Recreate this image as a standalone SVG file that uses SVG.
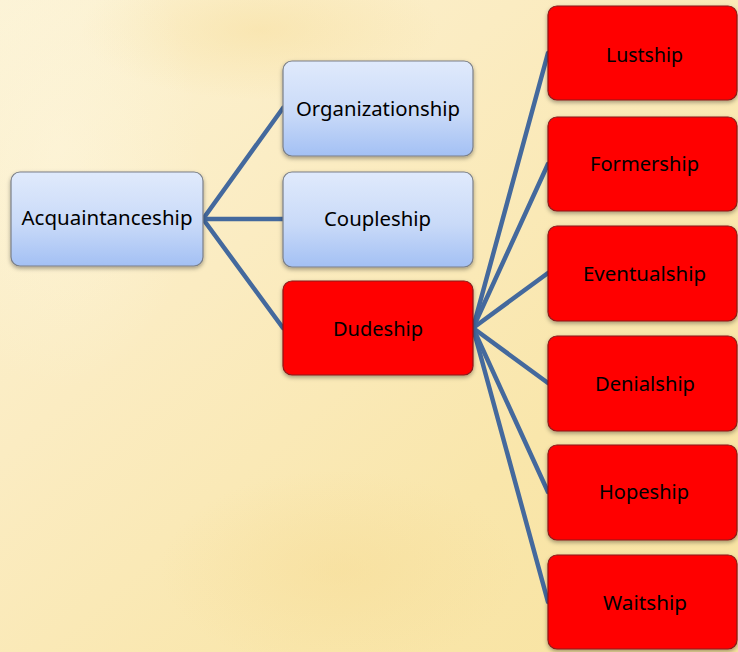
<svg xmlns="http://www.w3.org/2000/svg" width="738" height="652" viewBox="0 0 738 652">
<defs>
<linearGradient id="bg" x1="0" y1="0" x2="1" y2="1">
<stop offset="0" stop-color="#fcf3d6"/>
<stop offset="0.35" stop-color="#fbecc2"/>
<stop offset="0.7" stop-color="#f9e6ab"/>
<stop offset="1" stop-color="#f8e3a0"/>
</linearGradient>
<radialGradient id="spot1" cx="0.5" cy="0.5" r="0.5">
<stop offset="0" stop-color="#f6db94" stop-opacity="0.45"/>
<stop offset="1" stop-color="#f6db94" stop-opacity="0"/>
</radialGradient>
<radialGradient id="spot2" cx="0.5" cy="0.5" r="0.5">
<stop offset="0" stop-color="#fdf6de" stop-opacity="0.5"/>
<stop offset="1" stop-color="#fdf6de" stop-opacity="0"/>
</radialGradient>
<linearGradient id="blue" x1="0" y1="0" x2="0" y2="1">
<stop offset="0" stop-color="#e0eafc"/>
<stop offset="0.55" stop-color="#c9daf8"/>
<stop offset="1" stop-color="#a3c0f4"/>
</linearGradient>
<filter id="sh" x="-10%" y="-10%" width="125%" height="130%">
<feDropShadow dx="0" dy="2" stdDeviation="2" flood-color="#000" flood-opacity="0.35"/>
</filter>
<style>
.bl{fill:url(#blue);stroke:#7a7f88;stroke-width:1.2;filter:url(#sh)}
.rd{fill:#ff0000;stroke:#8a1a1a;stroke-width:1.2;filter:url(#sh)}
.t{font-family:"Noto Sans","Open Sans","Liberation Sans",sans-serif;font-size:19.5px;fill:#000;text-anchor:middle}
.c{stroke:#44699d;stroke-width:4.5;fill:none;stroke-linecap:round}
</style>
</defs>
<rect x="0" y="0" width="738" height="652" fill="url(#bg)"/>
<ellipse cx="260" cy="30" rx="180" ry="70" fill="url(#spot1)"/>
<ellipse cx="340" cy="570" rx="180" ry="100" fill="url(#spot1)"/>
<ellipse cx="60" cy="150" rx="140" ry="240" fill="url(#spot2)"/>

<g id="connectors">
<line class="c" x1="203" y1="219" x2="283" y2="108"/>
<line class="c" x1="203" y1="219" x2="283" y2="219"/>
<line class="c" x1="203" y1="219" x2="283" y2="328"/>
<line class="c" x1="473" y1="328" x2="548" y2="53"/>
<line class="c" x1="473" y1="328" x2="548" y2="164"/>
<line class="c" x1="473" y1="328" x2="548" y2="273"/>
<line class="c" x1="473" y1="328" x2="548" y2="383"/>
<line class="c" x1="473" y1="328" x2="548" y2="492"/>
<line class="c" x1="473" y1="328" x2="548" y2="602"/>
</g>

<g id="acquaintanceship">
<rect class="bl" x="11" y="172" width="192" height="94" rx="9"/>
<text class="t" x="107" y="225" textLength="171" lengthAdjust="spacingAndGlyphs">Acquaintanceship</text>
</g>
<g id="organizationship">
<rect class="bl" x="283" y="61" width="190" height="95" rx="9"/>
<text class="t" x="378" y="116" textLength="164" lengthAdjust="spacingAndGlyphs">Organizationship</text>
</g>
<g id="coupleship">
<rect class="bl" x="283" y="172" width="190" height="95" rx="9"/>
<text class="t" x="377.5" y="226" textLength="107" lengthAdjust="spacingAndGlyphs">Coupleship</text>
</g>
<g id="dudeship">
<rect class="rd" x="283" y="281" width="190" height="94" rx="9"/>
<text class="t" x="378" y="336" textLength="90" lengthAdjust="spacingAndGlyphs">Dudeship</text>
</g>
<g id="lustship">
<rect class="rd" x="548" y="6" width="189" height="94" rx="9"/>
<text class="t" x="644.5" y="62" textLength="77" lengthAdjust="spacingAndGlyphs">Lustship</text>
</g>
<g id="formership">
<rect class="rd" x="548" y="117" width="189" height="94" rx="9"/>
<text class="t" x="644.5" y="171" textLength="109" lengthAdjust="spacingAndGlyphs">Formership</text>
</g>
<g id="eventualship">
<rect class="rd" x="548" y="226" width="189" height="95" rx="9"/>
<text class="t" x="644.5" y="281" textLength="123" lengthAdjust="spacingAndGlyphs">Eventualship</text>
</g>
<g id="denialship">
<rect class="rd" x="548" y="336" width="189" height="95" rx="9"/>
<text class="t" x="645" y="391" textLength="100" lengthAdjust="spacingAndGlyphs">Denialship</text>
</g>
<g id="hopeship">
<rect class="rd" x="548" y="445" width="189" height="95" rx="9"/>
<text class="t" x="644" y="499" textLength="90" lengthAdjust="spacingAndGlyphs">Hopeship</text>
</g>
<g id="waitship">
<rect class="rd" x="548" y="555" width="189" height="94" rx="9"/>
<text class="t" x="645" y="610" textLength="84" lengthAdjust="spacingAndGlyphs">Waitship</text>
</g>
</svg>
